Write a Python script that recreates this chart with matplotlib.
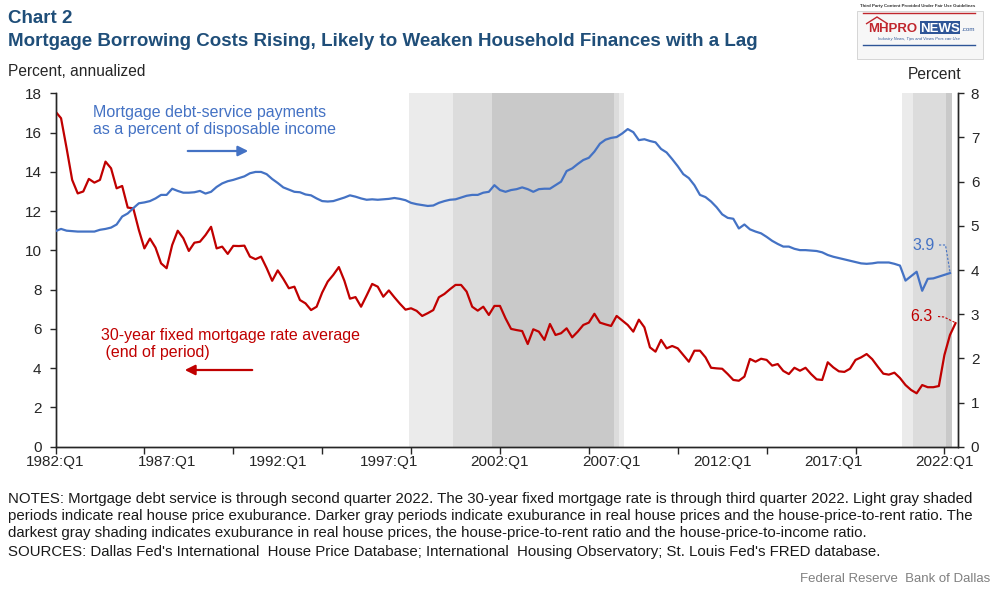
import numpy as np
import matplotlib
matplotlib.use("Agg")
import matplotlib.pyplot as plt
from matplotlib.lines import Line2D
from matplotlib.patches import Rectangle, Polygon, FancyArrowPatch

plt.rcParams['font.family'] = ['Liberation Sans', 'DejaVu Sans']

# ---------------- data ----------------
start_year = 1982
tick_labels = ["1982:Q1", "1987:Q1", "1992:Q1", "1997:Q1", "2002:Q1",
               "2007:Q1", "2012:Q1", "2017:Q1", "2022:Q1"]

# 30-year fixed mortgage rate, end of quarter, 1982:Q1 - 2022:Q3 (left axis)
mortgage_rate = [
    17.07, 16.73, 15.2, 13.59, 12.9, 13.0, 13.64, 13.45, 13.59, 14.52,
    14.18, 13.16, 13.28, 12.18, 12.14, 11.04, 10.1, 10.6, 10.14, 9.34,
    9.09, 10.27, 11.0, 10.62, 9.97, 10.39, 10.44, 10.78, 11.2, 10.1,
    10.19, 9.82, 10.23, 10.22, 10.24, 9.68, 9.55, 9.68, 9.1, 8.45,
    8.98, 8.55, 8.07, 8.15, 7.47, 7.3, 6.96, 7.13, 7.85, 8.41,
    8.75, 9.15, 8.45, 7.54, 7.62, 7.13, 7.7, 8.29, 8.15, 7.64,
    7.96, 7.61, 7.28, 6.98, 7.05, 6.92, 6.66, 6.8, 6.96, 7.61,
    7.78, 8.02, 8.24, 8.24, 7.9, 7.13, 6.93, 7.13, 6.71, 7.17,
    7.17, 6.54, 6.0, 5.94, 5.89, 5.23, 5.98, 5.86, 5.44, 6.25,
    5.69, 5.78, 6.03, 5.57, 5.86, 6.2, 6.32, 6.77, 6.32, 6.23,
    6.15, 6.66, 6.43, 6.2, 5.86, 6.47, 6.08, 5.06, 4.84, 5.44,
    5.01, 5.13, 5.01, 4.67, 4.33, 4.89, 4.89, 4.55, 4.02, 3.99,
    3.97, 3.7, 3.4, 3.36, 3.57, 4.47, 4.33, 4.48, 4.42, 4.13,
    4.21, 3.86, 3.7, 4.02, 3.87, 4.02, 3.7, 3.43, 3.4, 4.3,
    4.04, 3.84, 3.81, 3.97, 4.42, 4.55, 4.72, 4.46, 4.08, 3.72,
    3.67, 3.77, 3.5, 3.14, 2.89, 2.72, 3.14, 3.03, 3.03, 3.09,
    4.67, 5.69, 6.29]

# Mortgage debt-service payments, % of disposable income, 1982:Q1 - 2022:Q2 (right axis)
debt_service = [
    4.88, 4.93, 4.89, 4.88, 4.87, 4.87, 4.87, 4.87, 4.91, 4.93,
    4.96, 5.03, 5.21, 5.28, 5.4, 5.51, 5.53, 5.56, 5.62, 5.7,
    5.7, 5.84, 5.79, 5.75, 5.75, 5.76, 5.79, 5.73, 5.77, 5.88,
    5.96, 6.01, 6.04, 6.08, 6.12, 6.19, 6.22, 6.22, 6.17, 6.06,
    5.97, 5.87, 5.82, 5.77, 5.76, 5.71, 5.69, 5.62, 5.56, 5.55,
    5.56, 5.6, 5.64, 5.69, 5.66, 5.62, 5.59, 5.6, 5.59, 5.6,
    5.61, 5.63, 5.61, 5.58, 5.52, 5.49, 5.47, 5.45, 5.46, 5.52,
    5.56, 5.59, 5.6, 5.64, 5.68, 5.7, 5.7, 5.75, 5.77, 5.92,
    5.81, 5.77, 5.81, 5.83, 5.87, 5.83, 5.77, 5.83, 5.84, 5.84,
    5.92, 6.0, 6.24, 6.3, 6.4, 6.49, 6.54, 6.68, 6.86, 6.95,
    6.99, 7.01, 7.09, 7.19, 7.12, 6.94, 6.96, 6.92, 6.89, 6.74,
    6.66, 6.51, 6.35, 6.17, 6.08, 5.92, 5.7, 5.65, 5.55, 5.42,
    5.26, 5.18, 5.16, 4.94, 5.03, 4.92, 4.87, 4.83, 4.75, 4.66,
    4.59, 4.53, 4.53, 4.48, 4.45, 4.45, 4.44, 4.43, 4.4, 4.34,
    4.3, 4.27, 4.24, 4.21, 4.18, 4.15, 4.14, 4.15, 4.17, 4.17,
    4.17, 4.14, 4.1, 3.76, 3.86, 3.96, 3.53, 3.8, 3.81, 3.85,
    3.89, 3.93]

# exuberance periods (quarter index from 1982:Q1): (start, end)
light_periods = [(63.6, 102.4), (152.4, 161.4)]
darker_periods = [(71.5, 101.5), (154.4, 161.4)]
darkest_periods = [(78.5, 100.5), (160.3, 161.4)]

end_label_rate = "6.3"
end_label_dsr = "3.9"

# ---------------- figure ----------------
W, H = 997, 589
fig = plt.figure(figsize=(W / 100, H / 100), dpi=100)


def fx(x):
    return x / W


def fy(y):
    return 1 - y / H


ax_l, ax_r, ax_t, ax_b = 55.5, 958.3, 93.3, 446.7
ax = fig.add_axes([fx(ax_l), fy(ax_b), (ax_r - ax_l) / W, (ax_b - ax_t) / H])
ax2 = ax.twinx()

q_rate = np.arange(len(mortgage_rate))
q_dsr = np.arange(len(debt_service))

for periods, col in [(light_periods, '#ebebeb'), (darker_periods, '#dcdcdc'),
                     (darkest_periods, '#c9c9c9')]:
    for s, e in periods:
        ax.axvspan(s, e, color=col, lw=0, zorder=0)

ax.plot(q_rate, mortgage_rate, color='#c00000', lw=1.6, zorder=3,
        solid_joinstyle='round')
ax2.plot(q_dsr, debt_service, color='#4472c4', lw=1.6, zorder=3,
         solid_joinstyle='round')

ax.set_xlim(0, 162.5)
ax.set_ylim(0, 18)
ax2.set_ylim(0, 8)

axis_col = '#262626'
for a in (ax, ax2):
    a.spines['top'].set_visible(False)
    for sp in ('left', 'right', 'bottom'):
        a.spines[sp].set_color(axis_col)
        a.spines[sp].set_linewidth(1.0)

ax.set_yticks(np.arange(0, 19, 2))
ax2.set_yticks(np.arange(0, 9, 1))
ax.tick_params(axis='y', direction='out', length=4, width=1, colors=axis_col,
               labelsize=11, labelcolor='#262626', pad=6)
ax2.tick_params(axis='y', direction='out', length=4, width=1, colors=axis_col,
                labelsize=11, labelcolor='#262626', pad=5)

ax.xaxis.remove_overlapping_locs = False
ax.set_xticks(np.arange(0, 161, 16))
ax.set_xticklabels([])
ax.set_xticks(np.arange(0, 161, 20), minor=True)
ax.set_xticklabels(tick_labels, minor=True)
ax.tick_params(axis='x', which='major', direction='out', length=5, width=1,
               colors=axis_col)
ax.tick_params(axis='x', which='minor', length=0, labelsize=11,
               labelcolor='#262626', pad=6)

# ---------------- titles ----------------
title_col = '#1f4e79'
fig.text(fx(8), fy(23), "Chart 2", fontsize=13.5, fontweight='bold',
         color=title_col, va='baseline', ha='left')
fig.text(fx(8), fy(46.5),
         "Mortgage Borrowing Costs Rising, Likely to Weaken Household Finances with a Lag",
         fontsize=13.5, fontweight='bold', color=title_col, va='baseline', ha='left')
fig.text(fx(8), fy(76.5), "Percent, annualized", fontsize=11.2, color='#262626',
         va='baseline', ha='left')
fig.text(fx(961), fy(79), "Percent", fontsize=11.2, color='#262626',
         va='baseline', ha='right')

# ---------------- annotations ----------------
blue = '#4472c4'
red = '#c00000'
fig.text(fx(93), fy(117), "Mortgage debt-service payments", fontsize=11.5,
         color=blue, va='baseline')
fig.text(fx(93), fy(134), "as a percent of disposable income", fontsize=11.5,
         color=blue, va='baseline')
fig.add_artist(FancyArrowPatch(
    (fx(185), fy(151)), (fx(251), fy(151)), transform=fig.transFigure,
    arrowstyle='-|>,head_length=6,head_width=3', color=blue, lw=1.6))

fig.text(fx(101), fy(340), "30-year fixed mortgage rate average", fontsize=11.5,
         color=red, va='baseline')
fig.text(fx(101), fy(357.5), " (end of period)", fontsize=11.5,
         color=red, va='baseline')
fig.add_artist(FancyArrowPatch(
    (fx(255), fy(370)), (fx(182), fy(370)), transform=fig.transFigure,
    arrowstyle='-|>,head_length=6,head_width=3', color=red, lw=1.6))

fig.text(fx(935), fy(245), end_label_dsr, fontsize=11.5, color=blue,
         va='center', ha='right')
fig.add_artist(Line2D([fx(939), fx(945.5), fx(950)], [fy(245), fy(245), fy(272)],
                      transform=fig.transFigure, color=blue, lw=0.8,
                      ls=(0, (2, 1.5))))
fig.text(fx(932), fy(316.5), end_label_rate, fontsize=11.5, color=red,
         va='center', ha='right')
fig.add_artist(Line2D([fx(938), fx(944), fx(956)], [fy(316.5), fy(317), fy(323)],
                      transform=fig.transFigure, color=red, lw=0.8,
                      ls=(0, (2, 1.5))))

# ---------------- notes ----------------
notes = [
    "NOTES: Mortgage debt service is through second quarter 2022. The 30-year fixed mortgage rate is through third quarter 2022. Light gray shaded",
    "periods indicate real house price exuburance. Darker gray periods indicate exuburance in real house prices and the house-price-to-rent ratio. The",
    "darkest gray shading indicates exuburance in real house prices, the house-price-to-rent ratio and the house-price-to-income ratio.",
    "SOURCES: Dallas Fed's International  House Price Database; International  Housing Observatory; St. Louis Fed's FRED database.",
]
note_y = [503, 520, 537, 556]
for t, y in zip(notes, note_y):
    fig.text(fx(8), fy(y), t, fontsize=10.85, color='#1a1a1a', va='baseline', ha='left')
fig.text(fx(990), fy(582), "Federal Reserve  Bank of Dallas", fontsize=9.5,
         color='#808080', va='baseline', ha='right')

# ---------------- logo ----------------
fig.add_artist(Rectangle((fx(857), fy(59)), (983 - 857) / W, (59 - 11) / H,
                         transform=fig.transFigure, facecolor='#f7f7f7',
                         edgecolor='#d0d0d0', lw=0.6))
fig.text(fx(918), fy(6), "Third Party Content Provided Under Fair Use Guidelines",
         fontsize=3.2, color='#333333', ha='center', va='center', fontweight='bold')
fig.add_artist(Line2D([fx(863), fx(975)], [fy(13), fy(13)], transform=fig.transFigure,
                      color='#c0262d', lw=1.0))
fig.add_artist(Polygon([[fx(866), fy(24)], [fx(877), fy(17)], [fx(888), fy(24)]],
                       closed=False, fill=False, edgecolor='#c0262d', lw=1.0,
                       transform=fig.transFigure))
fig.text(fx(868), fy(32), "MHPRO", fontsize=9.5, fontweight='bold', color='#c0262d',
         ha='left', va='baseline')
fig.add_artist(Rectangle((fx(920), fy(34)), 40 / W, 13 / H, transform=fig.transFigure,
                         facecolor='#2e5597', lw=0))
fig.text(fx(940), fy(32), "NEWS", fontsize=9.5, fontweight='bold', color='white',
         ha='center', va='baseline')
fig.text(fx(961), fy(31), ".com", fontsize=4.5, color='#2e5597', ha='left',
         va='baseline')
fig.text(fx(919), fy(39), "Industry News, Tips and Views Pros can Use", fontsize=3,
         color='#2e5597', ha='center', va='center', style='italic')
fig.add_artist(Line2D([fx(863), fx(975)], [fy(45), fy(45)], transform=fig.transFigure,
                      color='#2e5597', lw=1.0))

fig.savefig("out.png", dpi=100)
